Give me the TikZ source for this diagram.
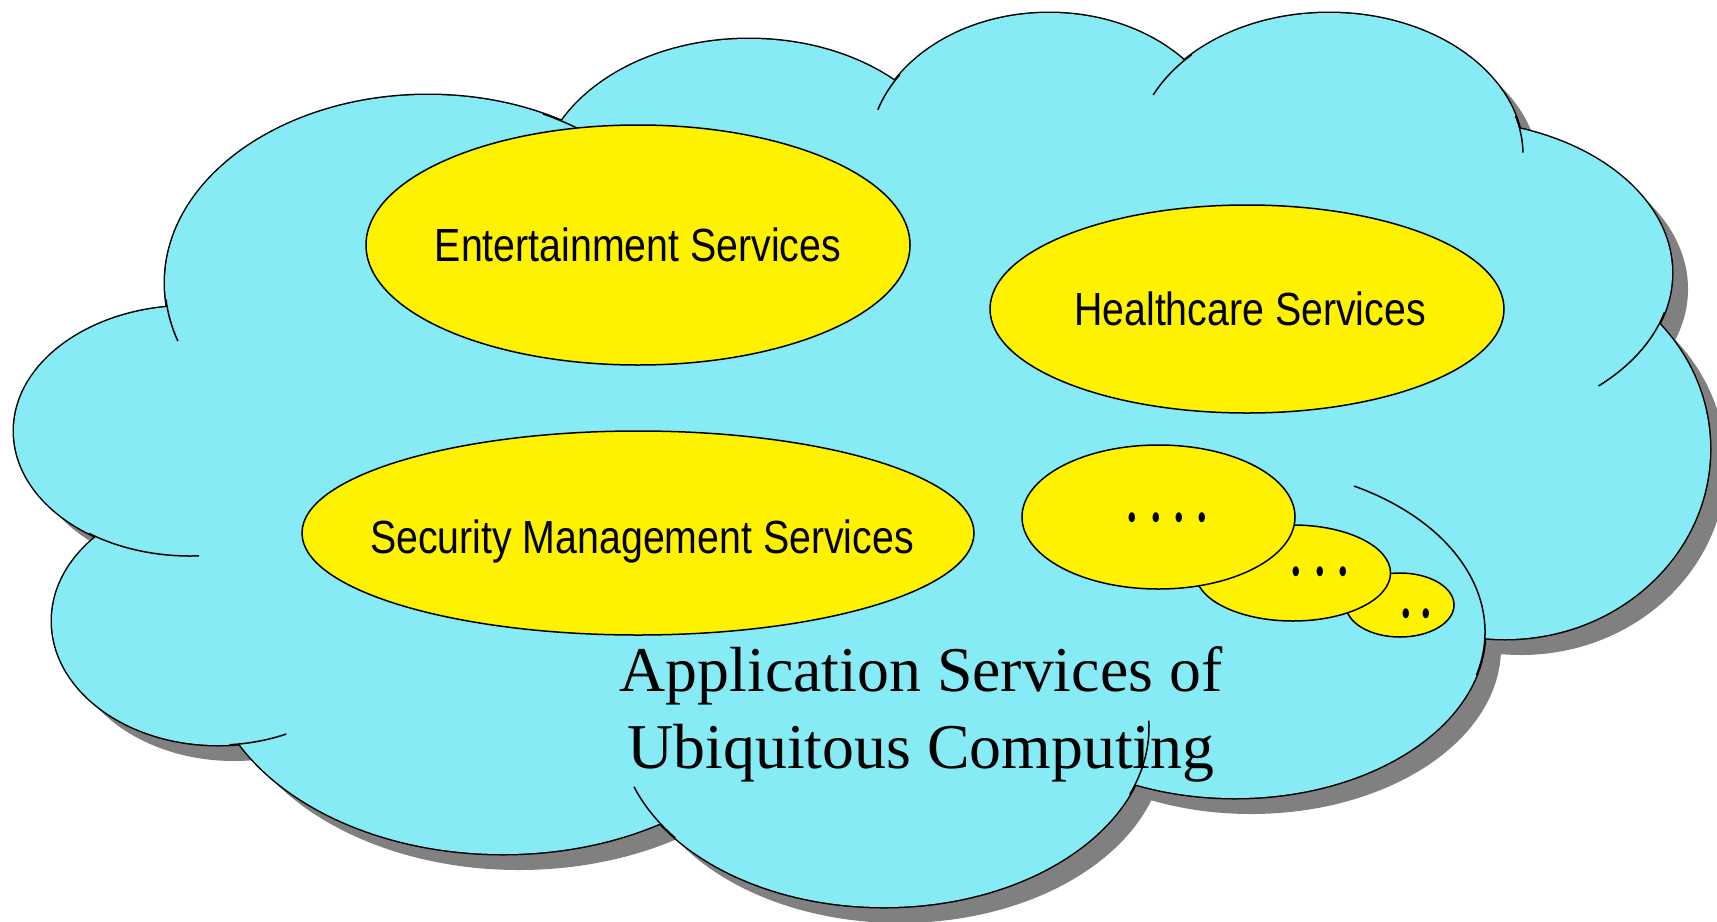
\documentclass[tikz,border=0pt]{standalone}
\usepackage{fontspec}
\setmainfont{Liberation Serif}
\newfontfamily\arialfont{Liberation Sans}
\definecolor{cloudblue}{RGB}{134,235,245}
\definecolor{shadowgray}{RGB}{128,128,128}
\newcommand\cloudlobes{190/431/176/125, 428/283/263/188, 749/189/210/150, 1049/153/180/140, 1329/155/194/142, 1450/273/222/152, 1505/449/205/190, 1235/632/250/166, 884/727/265/180, 503/654/295/200, 218/621/166/124}
\newcommand\cloudcore{(190,431) -- (428,283) -- (749,189) -- (1049,153) -- (1329,155) -- (1450,273) -- (1505,449) -- (1235,632) -- (884,727) -- (503,654) -- (218,621) -- cycle}

\begin{document}
\begin{tikzpicture}[x=0.5pt, y=-0.5pt,
  outline/.style={draw=black, line width=1.5pt},
  stub/.style={draw=black, line width=0.75pt},
  bubble/.style={draw=black, fill=yellow, line width=0.75pt},
  service/.style={anchor=base, inner sep=0pt, xscale=0.845, font=\arialfont\fontsize{23.25pt}{28pt}\selectfont},
  dots/.style={anchor=base, inner sep=0pt, xscale=0.645, font=\fontsize{42pt}{50pt}\selectfont},
  title/.style={anchor=base, inner sep=0pt, font=\fontsize{31.9pt}{38.3pt}\selectfont}]
\useasboundingbox (0,0) rectangle (1717,921);

\foreach \cx/\cy/\rx/\ry in \cloudlobes
  \fill[shadowgray] (\cx+16,\cy+16) ellipse [x radius=\rx, y radius=\ry];
\fill[shadowgray, shift={(16,16)}] \cloudcore;

\foreach \cx/\cy/\rx/\ry in \cloudlobes
  \draw[outline] (\cx,\cy) ellipse [x radius=\rx, y radius=\ry];
\foreach \cx/\cy/\rx/\ry in \cloudlobes
  \fill[cloudblue] (\cx,\cy) ellipse [x radius=\rx, y radius=\ry];
\fill[cloudblue] \cloudcore;

\draw[stub] (190,431) ++(125:176 and 125) arc [start angle=125, end angle=87, x radius=176, y radius=125];
\draw[stub] (428,283) ++(175:263 and 188) arc [start angle=175, end angle=162, x radius=263, y radius=188];
\draw[stub] (428,283) ++(296:263 and 188) arc [start angle=296, end angle=318, x radius=263, y radius=188];
\draw[stub] (1049,153) ++(214:180 and 140) arc [start angle=214, end angle=198, x radius=180, y radius=140];
\draw[stub] (1329,155) ++(225:194 and 142) arc [start angle=225, end angle=205, x radius=194, y radius=142];
\draw[stub] (1329,155) ++(344:194 and 142) arc [start angle=344, end angle=359, x radius=194, y radius=142];
\draw[stub] (1450,273) ++(15:222 and 152) arc [start angle=15, end angle=48, x radius=222, y radius=152];
\draw[stub] (1235,632) ++(15:250 and 166) arc [start angle=15, end angle=-61.6, x radius=250, y radius=166];
\draw[stub] (884,727) ++(22:265 and 180) arc [start angle=22, end angle=-2, x radius=265, y radius=180];
\draw[stub] (884,727) ++(142:265 and 180) arc [start angle=142, end angle=160.6, x radius=265, y radius=180];
\draw[stub] (218,621) ++(86:166 and 124) arc [start angle=86, end angle=65.7, x radius=166, y radius=124];

\draw[bubble] (638,245) ellipse [x radius=272, y radius=120];
\draw[bubble] (1247,309) ellipse [x radius=257, y radius=104];
\draw[bubble] (638,533) ellipse [x radius=336, y radius=102];
\draw[bubble] (1400,605) ellipse [x radius=54, y radius=32];
\draw[bubble] (1293,573) ellipse [x radius=97.5, y radius=48];
\draw[bubble] (1158.5,517) ellipse [x radius=136.5, y radius=72];

\node[service] (ent) at (638,261.7) {Entertainment Services};
\node[service] (care) at (1250,325) {Healthcare Services};
\node[service] (sec) at (642,553.3) {Security Management Services};
\node[dots] (more4) at (1167.5,521.1) {.\kern7.6pt.\kern7.6pt.\kern7.6pt.};
\node[dots] (more3) at (1320,575.5) {.\kern7.6pt.\kern7.6pt.};
\node[dots] (more2) at (1416,617.1) {.\kern5pt.};
\node[title] (title1) at (921,691.7) {Application Services of};
\node[title] (title2) at (921,768.3) {Ubiquitous Computing};
\end{tikzpicture}
\end{document}
